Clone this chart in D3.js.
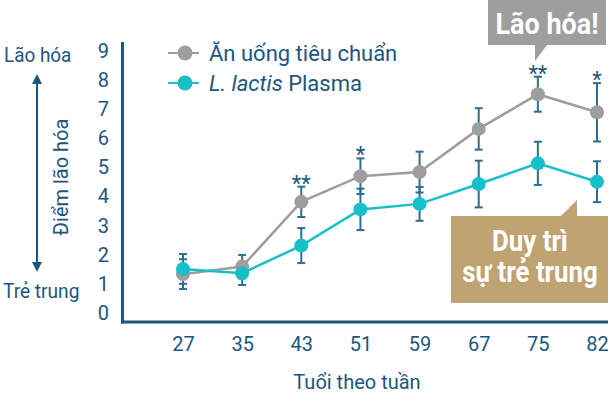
<!DOCTYPE html>
<html>
<head>
<meta charset="utf-8">
<script src="https://cdn.jsdelivr.net/npm/d3@7"></script>
<style>
  body { margin: 0; background: #fff; }
  svg text { font-family: Roboto, "Noto Sans", sans-serif; }
</style>
</head>
<body>
<div id="chart"></div>
<script>
// week of age on x
var weeks = ["27", "35", "43", "51", "59", "67", "75", "82"];
// standard diet (grey) and L. lactis Plasma (teal), mean aging score and error
var standard = [1.34, 1.6, 3.82, 4.7, 4.84, 6.32, 7.51, 6.89];
var standardErr = [0.51, 0.4, 0.52, 0.61, 0.7, 0.71, 0.6, 1.0];
var plasma = [1.52, 1.37, 2.32, 3.56, 3.75, 4.43, 5.14, 4.51];
var plasmaErr = [0.51, 0.4, 0.6, 0.71, 0.58, 0.8, 0.74, 0.7];
var stars = ["", "", "**", "*", "", "", "**", "*"];
var yTicks = [0, 1, 2, 3, 4, 5, 6, 7, 8, 9];

var svgWidth = 608;
var svgHeight = 398;
var navy = "#1c567d";
var grey = "#9e9e9e";
var teal = "#17bfca";
var barColor = "#2f6d90";

var svg = d3.select("#chart")
  .append("svg")
  .attr("width", svgWidth)
  .attr("height", svgHeight);

var x = d3.scalePoint()
  .domain(weeks)
  .range([183, 597]);

var y = d3.scaleLinear()
  .domain([-0.3, 9.3])
  .range([322, 42]);

// narrow text helper (reference font is condensed)
function label(tx, ty, str, size, sx, anchor, color, weight) {
  return svg.append("text")
    .attr("transform", "translate(" + tx + "," + ty + ") scale(" + sx + ",1)")
    .attr("text-anchor", anchor || "start")
    .attr("fill", color || navy)
    .style("font-size", size + "px")
    .style("font-weight", weight || "normal")
    .text(str);
}

// axes (labels only, own lines)
var xAxis = svg.append("g")
  .attr("transform", "translate(0,322)")
  .call(d3.axisBottom(x).tickSize(0).tickPadding(15));
xAxis.select(".domain").remove();
xAxis.selectAll("text")
  .attr("fill", navy)
  .style("font-size", "20px");

var yAxis = svg.append("g")
  .attr("transform", "translate(122,0)")
  .call(d3.axisLeft(y).tickValues(yTicks).tickSize(0).tickPadding(13));
yAxis.select(".domain").remove();
yAxis.selectAll("text")
  .attr("fill", navy)
  .style("font-size", "20px");

svg.append("line")
  .attr("x1", 122.5).attr("x2", 122.5)
  .attr("y1", 42).attr("y2", 323.5)
  .attr("stroke", navy).attr("stroke-width", 3);
svg.append("line")
  .attr("x1", 121).attr("x2", 608)
  .attr("y1", 322).attr("y2", 322)
  .attr("stroke", navy).attr("stroke-width", 3);

// axis titles
label(357, 389, "Tuổi theo tuần", 20, 1, "middle");
label(4, 62, "Lão hóa", 21, 0.9);
label(3, 298, "Trẻ trung", 21, 0.91);

svg.append("defs").append("marker")
  .attr("id", "head")
  .attr("viewBox", "0 0 10 10")
  .attr("refX", 5).attr("refY", 5)
  .attr("markerWidth", 5).attr("markerHeight", 5)
  .attr("orient", "auto-start-reverse")
  .append("path")
  .attr("d", "M0,0L10,5L0,10Z")
  .attr("fill", navy);

svg.append("line")
  .attr("x1", 37).attr("x2", 37)
  .attr("y1", 79).attr("y2", 267)
  .attr("stroke", navy).attr("stroke-width", 2)
  .attr("marker-start", "url(#head)")
  .attr("marker-end", "url(#head)");

svg.append("text")
  .attr("transform", "translate(68,177) rotate(-90)")
  .attr("text-anchor", "middle")
  .attr("fill", navy)
  .style("font-size", "20px")
  .text("Điểm lão hóa");

// lines
var line = d3.line()
  .x(function(d, i) { return x(weeks[i]); })
  .y(function(d) { return y(d); });

svg.append("path")
  .datum(standard)
  .attr("d", line)
  .attr("fill", "none")
  .attr("stroke", grey)
  .attr("stroke-width", 2.5);
svg.append("path")
  .datum(plasma)
  .attr("d", line)
  .attr("fill", "none")
  .attr("stroke", teal)
  .attr("stroke-width", 2.5);

// error bars
function errorBars(vals, errs) {
  var g = svg.append("g")
    .attr("stroke", barColor)
    .attr("stroke-width", 2);
  vals.forEach(function(v, i) {
    var cx = x(weeks[i]);
    g.append("line")
      .attr("x1", cx).attr("x2", cx)
      .attr("y1", y(v + errs[i])).attr("y2", y(v - errs[i]));
    [v + errs[i], v - errs[i]].forEach(function(e) {
      g.append("line")
        .attr("x1", cx - 4).attr("x2", cx + 4)
        .attr("y1", y(e)).attr("y2", y(e));
    });
  });
}
errorBars(standard, standardErr);
errorBars(plasma, plasmaErr);

svg.append("g").selectAll("circle")
  .data(standard)
  .enter()
  .append("circle")
  .attr("cx", function(d, i) { return x(weeks[i]); })
  .attr("cy", function(d) { return y(d); })
  .attr("r", 7)
  .attr("fill", grey);
svg.append("g").selectAll("circle")
  .data(plasma)
  .enter()
  .append("circle")
  .attr("cx", function(d, i) { return x(weeks[i]); })
  .attr("cy", function(d) { return y(d); })
  .attr("r", 7)
  .attr("fill", teal);

// significance stars
svg.append("g").selectAll("text")
  .data(stars)
  .enter()
  .append("text")
  .attr("x", function(d, i) { return x(weeks[i]); })
  .attr("y", function(d, i) { return y(standard[i] + standardErr[i]) + 4; })
  .attr("text-anchor", "middle")
  .attr("fill", navy)
  .style("font-size", "22px")
  .text(function(d) { return d; });

// legend
var legend = [
  { name: "Ăn uống tiêu chuẩn", color: grey },
  { name: "L. lactis", rest: " Plasma", color: teal }
];
legend.forEach(function(l, i) {
  var ly = 53 + i * 30;
  svg.append("line")
    .attr("x1", 168).attr("x2", 199)
    .attr("y1", ly).attr("y2", ly)
    .attr("stroke", l.color).attr("stroke-width", 2);
  svg.append("circle")
    .attr("cx", 185).attr("cy", ly).attr("r", 7.5)
    .attr("fill", l.color);
  var t = svg.append("text")
    .attr("x", 209).attr("y", ly + 8)
    .attr("fill", navy)
    .style("font-size", "22px");
  if (l.rest) {
    t.append("tspan").style("font-style", "italic").text(l.name);
    t.append("tspan").text(l.rest);
  } else {
    t.text(l.name);
  }
});

// callouts
svg.append("path")
  .attr("d", "M488,0H606V45H547L535,61V45H488Z")
  .attr("fill", "#9e9e9e");
label(547, 34, "Lão hóa!", 30, 0.9, "middle", "#fff", "bold");

svg.append("path")
  .attr("d", "M451,216H561L577,200V216H608V303H451Z")
  .attr("fill", "#bfa372");
label(530, 251, "Duy trì", 29, 0.89, "middle", "#fff", "bold");
label(530, 282, "sự trẻ trung", 29, 0.89, "middle", "#fff", "bold");
</script>
</body>
</html>
